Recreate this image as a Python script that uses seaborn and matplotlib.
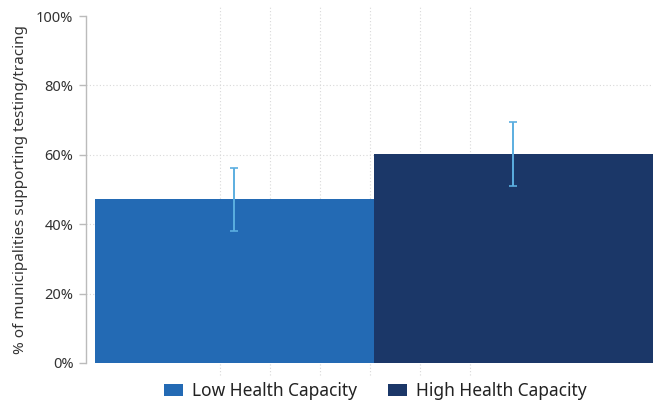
import matplotlib
matplotlib.use("Agg")
import matplotlib.pyplot as plt
import matplotlib.transforms as mtransforms
from matplotlib.patches import Patch
import seaborn as sns
import pandas as pd

# Share of municipalities supporting testing/tracing, by health capacity
groups = ["Low Health Capacity", "High Health Capacity"]
share = [47.3, 60.2]
ci_low = [38.0, 51.0]
ci_high = [56.2, 69.5]
colors = ["#236AB4", "#1B3768"]
y_ticks = [0, 20, 40, 60, 80, 100]
y_tick_labels = ["0%", "20%", "40%", "60%", "80%", "100%"]

df = pd.DataFrame({"group": groups, "share": share})

sns.set_theme(style="white")
plt.rcParams["font.family"] = ["Noto Sans", "DejaVu Sans"]

fig = plt.figure(figsize=(6.59, 4.03), dpi=100)
ax = fig.add_axes([86 / 659, 40 / 403, (653 - 86) / 659, 347 / 403])

sns.barplot(data=df, x="group", y="share", hue="group", palette=colors,
            width=1.0, dodge=False, legend=False, errorbar=None, ax=ax,
            linewidth=0, saturation=1)

# confidence intervals
for i, (lo, hi) in enumerate(zip(ci_low, ci_high)):
    ax.errorbar(i, (lo + hi) / 2, yerr=(hi - lo) / 2, fmt="none",
                ecolor="#5BAEE0", elinewidth=1.4, capsize=3, capthick=1.2, zorder=5)

ax.set_xlim(-0.532, 1.5)
ax.set_ylim(0, 100)
ax.set_yticks(y_ticks)
ax.set_yticklabels(y_tick_labels, fontsize=10.5, color="#333333")
ax.set_xticks([])
ax.set_xlabel("")
ax.set_ylabel("% of municipalities supporting testing/tracing", fontsize=11,
              color="#333333", labelpad=6)

# dotted horizontal grid
for t in y_ticks[1:-1]:
    ax.axhline(t, color="#d9d9d9", linestyle=(0, (1, 2)), linewidth=0.8, zorder=0)

# dotted vertical guides
trans = mtransforms.blended_transform_factory(ax.transData, ax.transAxes)
guide_x = [-0.052 + 0.1792 * k for k in range(6)]
for gx in guide_x:
    ax.plot([gx, gx], [-0.035, 1.026], transform=trans, color="#d9d9d9",
            linestyle=(0, (1, 2)), linewidth=0.8, zorder=0, clip_on=False)

for s in ["top", "right", "bottom"]:
    ax.spines[s].set_visible(False)
ax.spines["left"].set_color("#bbbbbb")
ax.spines["left"].set_linewidth(1.0)
ax.tick_params(axis="y", length=5, color="#bbbbbb", width=1.0, pad=4, left=True)

handles = [Patch(facecolor=c, edgecolor="none") for c in colors]
fig.legend(handles, groups, loc="lower center", bbox_to_anchor=(375 / 659, -0.032),
           ncol=2, frameon=False, fontsize=12.5, handlelength=1.1, handleheight=0.7,
           handletextpad=0.5, columnspacing=1.8, labelcolor="#222222")

fig.savefig("out.png", dpi=100)
